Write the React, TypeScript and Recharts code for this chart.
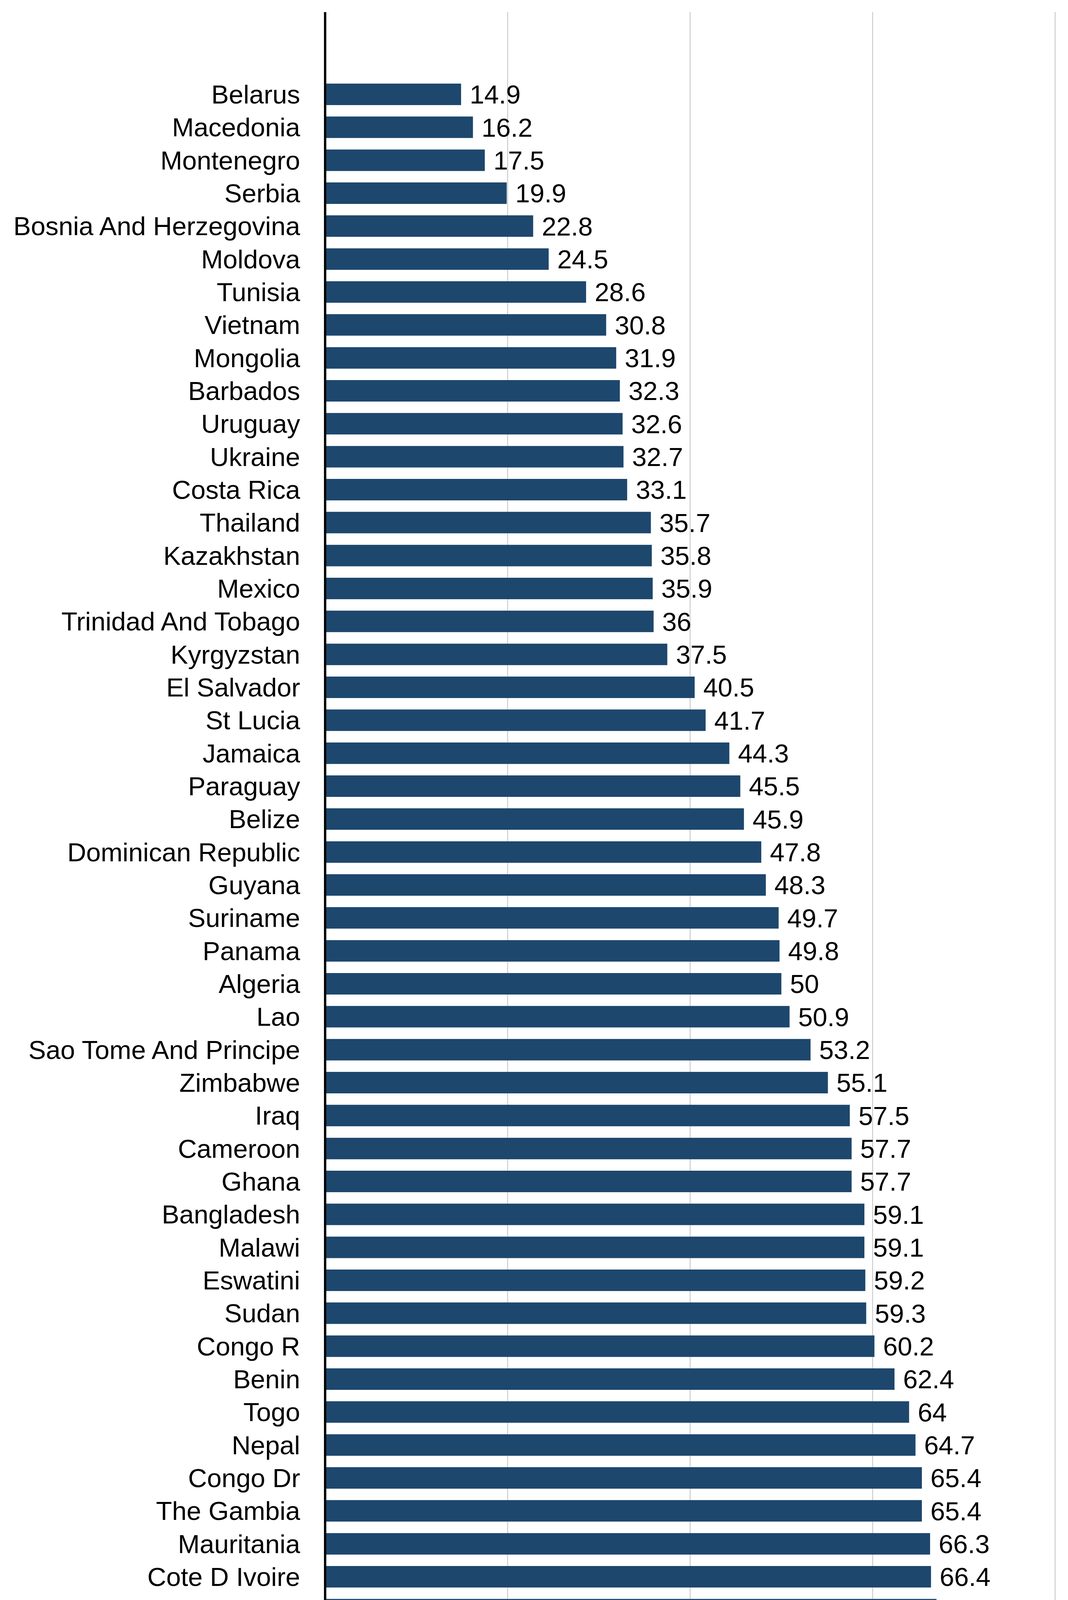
import { BarChart, Bar, XAxis, YAxis, CartesianGrid, LabelList } from "recharts";

const countries = [
  "Belarus", "Macedonia", "Montenegro", "Serbia", "Bosnia And Herzegovina",
  "Moldova", "Tunisia", "Vietnam", "Mongolia", "Barbados", "Uruguay", "Ukraine",
  "Costa Rica", "Thailand", "Kazakhstan", "Mexico", "Trinidad And Tobago",
  "Kyrgyzstan", "El Salvador", "St Lucia", "Jamaica", "Paraguay", "Belize",
  "Dominican Republic", "Guyana", "Suriname", "Panama", "Algeria", "Lao",
  "Sao Tome And Principe", "Zimbabwe", "Iraq", "Cameroon", "Ghana", "Bangladesh",
  "Malawi", "Eswatini", "Sudan", "Congo R", "Benin", "Togo", "Nepal", "Congo Dr",
  "The Gambia", "Mauritania", "Cote D Ivoire", "Sierra Leone", "Mali",
  "Central Africa Republic", "Chad", "Afghanistan",
];

const values = [
  14.9, 16.2, 17.5, 19.9, 22.8, 24.5, 28.6, 30.8, 31.9, 32.3, 32.6, 32.7, 33.1,
  35.7, 35.8, 35.9, 36, 37.5, 40.5, 41.7, 44.3, 45.5, 45.9, 47.8, 48.3, 49.7,
  49.8, 50, 50.9, 53.2, 55.1, 57.5, 57.7, 57.7, 59.1, 59.1, 59.2, 59.3, 60.2,
  62.4, 64, 64.7, 65.4, 65.4, 66.3, 66.4, 67, 68, 69.3, 71.4, 74.5,
];

const xTicks = [0, 20, 40, 60, 80];

const font = "'Liberation Sans', Arial, sans-serif";

export default function App() {
  const chartData = countries.map((c, i) => ({ country: c, value: values[i] }));

  return (
    <div style={{ width: 2720, height: 4680 }}>
      <BarChart
        width={2720}
        height={4680}
        data={chartData}
        layout="vertical"
        margin={{ top: 23, right: 28, left: 0, bottom: 21 }}
        barSize={55}
      >
        <CartesianGrid horizontal={false} stroke="#cccccc" strokeWidth={2.5} />
        <XAxis type="number" domain={[0, 80]} ticks={xTicks} hide />
        <YAxis
          type="category"
          dataKey="country"
          width={824}
          axisLine={{ stroke: "#000000", strokeWidth: 6 }}
          tickLine={false}
          tickSize={0}
          tickMargin={64}
          interval={0}
          padding={{ top: 168, bottom: 167 }}
          tick={{ fill: "#000000", fontSize: 67, fontFamily: font }}
        />
        <Bar dataKey="value" fill="#1d476d" isAnimationActive={false}>
          <LabelList
            dataKey="value"
            position="right"
            offset={22}
            fill="#000000"
            fontSize={67}
            fontFamily={font}
          />
        </Bar>
      </BarChart>
    </div>
  );
}
